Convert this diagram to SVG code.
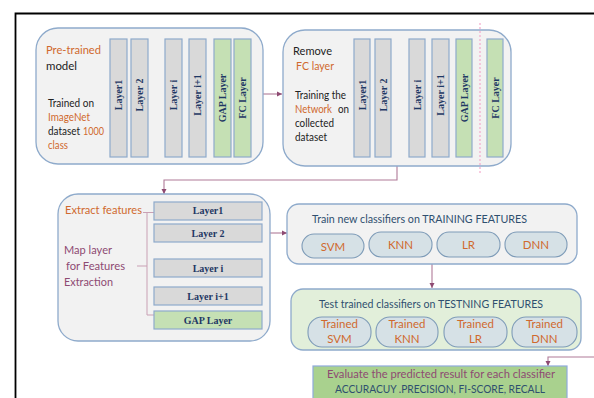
<svg xmlns="http://www.w3.org/2000/svg" width="594" height="398" viewBox="0 0 594 398">
  <defs>
    <marker id="arr" markerWidth="6" markerHeight="6" refX="5" refY="3" orient="auto" markerUnits="userSpaceOnUse">
      <path d="M0,0.5 L5,3 L0,5.5 Z" fill="#8e4a72"/>
    </marker>
    <style>
      .panel { fill: #f2f2f2; stroke: #8eaacb; stroke-width: 1.3; }
      .bar { fill: #d9d9d9; stroke: #8eaacb; stroke-width: 1.2; }
      .gbar { fill: #c5e0b4; stroke: #8eaacb; stroke-width: 1.2; }
      .pill { fill: #d6e1e6; stroke: #7f9cb8; stroke-width: 1.1; }
      .lbl { font-family: "Liberation Serif", serif; font-weight: bold; font-size: 10px; fill: #1f3864; }
      .t { font-family: Lato, "Open Sans", sans-serif; font-size: 11.5px; fill: #222; }
      .s { font-size: 10.5px; }
      .or { fill: #d0692e; }
      .mv { fill: #8e4a72; }
      .nv { fill: #2f4f6f; }
      .conn { fill: none; stroke: #b07a98; stroke-width: 1.1; }
    </style>
  </defs>

  <rect x="0" y="0" width="594" height="398" fill="#ffffff"/>

  <!-- outer frame -->
  <path d="M15.5,398 L15.5,13.5 L594,13.5" fill="none" stroke="#000" stroke-width="1.8"/>

  <!-- connectors -->
  <g id="connectors">
    <line class="conn" x1="263" y1="94" x2="282" y2="94" marker-end="url(#arr)"/>
    <path class="conn" d="M397,166 L397,180 L164,180 L164,194" marker-end="url(#arr)"/>
    <line class="conn" x1="270" y1="233" x2="287" y2="233" marker-end="url(#arr)"/>
    <line class="conn" x1="432" y1="264" x2="432" y2="288" marker-end="url(#arr)"/>
    <path class="conn" d="M594,357 L548,357 L548,366" marker-end="url(#arr)"/>
  </g>

  <!-- pre-trained model -->
  <g id="pretrained">
    <rect class="panel" x="36" y="28" width="227" height="136" rx="22"/>
    <text class="t or" x="46" y="54" textLength="55" lengthAdjust="spacingAndGlyphs">Pre-trained</text>
    <text class="t" x="46" y="70" textLength="31" lengthAdjust="spacingAndGlyphs">model</text>
    <text class="t s" x="48" y="107" textLength="46" lengthAdjust="spacingAndGlyphs">Trained on</text>
    <text class="t s or" x="48" y="121" textLength="42" lengthAdjust="spacingAndGlyphs">ImageNet</text>
    <text class="t s" x="48" y="135" textLength="32" lengthAdjust="spacingAndGlyphs">dataset</text>
    <text class="t s or" x="83" y="135" textLength="21" lengthAdjust="spacingAndGlyphs">1000</text>
    <text class="t s or" x="48" y="149" textLength="20" lengthAdjust="spacingAndGlyphs">class</text>
    <rect class="bar" x="110" y="39" width="17" height="118"/>
    <rect class="bar" x="131" y="39" width="17" height="118"/>
    <rect class="bar" x="165" y="39" width="17" height="118"/>
    <rect class="bar" x="189" y="39" width="17" height="118"/>
    <rect class="gbar" x="214" y="39" width="17" height="118"/>
    <rect class="gbar" x="234" y="39" width="17" height="118"/>
    <text class="lbl" transform="translate(122,95) rotate(-90)" text-anchor="middle">Layer1</text>
    <text class="lbl" transform="translate(143,95) rotate(-90)" text-anchor="middle">Layer 2</text>
    <text class="lbl" transform="translate(177,95) rotate(-90)" text-anchor="middle">Layer i</text>
    <text class="lbl" transform="translate(201,95) rotate(-90)" text-anchor="middle">Layer i+1</text>
    <text class="lbl" transform="translate(226,98) rotate(-90)" text-anchor="middle">GAP  Layer</text>
    <text class="lbl" transform="translate(246,98) rotate(-90)" text-anchor="middle">FC Layer</text>
  </g>

  <!-- remove FC layer -->
  <g id="remove-fc">
    <rect class="panel" x="283" y="30" width="228" height="136" rx="22"/>
    <text class="t" x="293" y="55" textLength="39" lengthAdjust="spacingAndGlyphs">Remove</text>
    <text class="t or" x="296" y="70" textLength="38" lengthAdjust="spacingAndGlyphs">FC layer</text>
    <text class="t s" x="295" y="99" textLength="51" lengthAdjust="spacingAndGlyphs">Training the</text>
    <text class="t s or" x="295" y="113" textLength="37" lengthAdjust="spacingAndGlyphs">Network</text>
    <text class="t s" x="338" y="113" textLength="11" lengthAdjust="spacingAndGlyphs">on</text>
    <text class="t s" x="295" y="127" textLength="39" lengthAdjust="spacingAndGlyphs">collected</text>
    <text class="t s" x="295" y="141" textLength="32" lengthAdjust="spacingAndGlyphs">dataset</text>
    <rect class="bar" x="354" y="39" width="16" height="118"/>
    <rect class="bar" x="375" y="39" width="16" height="118"/>
    <rect class="bar" x="409" y="39" width="16" height="118"/>
    <rect class="bar" x="432" y="39" width="17" height="118"/>
    <rect class="gbar" x="456" y="39" width="16" height="118"/>
    <rect class="gbar" x="487" y="39" width="16" height="118"/>
    <text class="lbl" transform="translate(366,95) rotate(-90)" text-anchor="middle">Layer1</text>
    <text class="lbl" transform="translate(387,95) rotate(-90)" text-anchor="middle">Layer 2</text>
    <text class="lbl" transform="translate(421,95) rotate(-90)" text-anchor="middle">Layer i</text>
    <text class="lbl" transform="translate(444,95) rotate(-90)" text-anchor="middle">Layer i+1</text>
    <text class="lbl" transform="translate(468,98) rotate(-90)" text-anchor="middle">GAP  Layer</text>
    <text class="lbl" transform="translate(499,98) rotate(-90)" text-anchor="middle">FC Layer</text>
    <!-- cut line before the FC layer -->
    <line x1="480" y1="23" x2="480" y2="174" stroke="#f3a9cb" stroke-width="1.2" stroke-dasharray="2,2"/>
  </g>

  <!-- feature extraction -->
  <g id="extract">
    <rect class="panel" x="58" y="194" width="212" height="147" rx="20"/>
    <text class="t or" x="65" y="214" textLength="77" lengthAdjust="spacingAndGlyphs">Extract features</text>
    <text class="t mv" x="64" y="254" textLength="48" lengthAdjust="spacingAndGlyphs">Map layer</text>
    <text class="t mv" x="66" y="270" textLength="59" lengthAdjust="spacingAndGlyphs">for Features</text>
    <text class="t mv" x="64" y="286" textLength="49" lengthAdjust="spacingAndGlyphs">Extraction</text>
    <!-- bracket grouping the extracted layers -->
    <path d="M143,212.5 L147,212.5 L147,315 L155,315 M147,212.5 L155,212.5 M137,266 L147,266" fill="none" stroke="#c9a0b4" stroke-width="1"/>
    <rect class="bar" x="154" y="202" width="108" height="18"/>
    <rect class="bar" x="154" y="224" width="108" height="18"/>
    <rect class="bar" x="154" y="259" width="108" height="18"/>
    <rect class="bar" x="154" y="287" width="108" height="18"/>
    <rect class="gbar" x="154" y="311" width="108" height="18"/>
    <text class="lbl" x="208" y="213.5" text-anchor="middle">Layer1</text>
    <text class="lbl" x="208" y="236.5" text-anchor="middle">Layer 2</text>
    <text class="lbl" x="208" y="271.5" text-anchor="middle">Layer i</text>
    <text class="lbl" x="208" y="299.5" text-anchor="middle">Layer i+1</text>
    <text class="lbl" x="208" y="323.5" text-anchor="middle">GAP  Layer</text>
  </g>

  <!-- training classifiers -->
  <g id="train">
    <rect class="panel" x="287" y="204" width="290" height="60" rx="12"/>
    <text class="t nv" x="312" y="223" textLength="215" lengthAdjust="spacingAndGlyphs">Train new classifiers on TRAINING FEATURES</text>
    <rect class="pill" x="302" y="234" width="62" height="24" rx="12"/>
    <rect class="pill" x="369" y="232" width="63" height="25" rx="12"/>
    <rect class="pill" x="437" y="232" width="63" height="25" rx="12"/>
    <rect class="pill" x="505" y="232" width="62" height="25" rx="12"/>
    <text class="t or" x="333" y="251" text-anchor="middle">SVM</text>
    <text class="t or" x="400.5" y="249" text-anchor="middle">KNN</text>
    <text class="t or" x="468.5" y="249" text-anchor="middle">LR</text>
    <text class="t or" x="536" y="249" text-anchor="middle">DNN</text>
  </g>

  <!-- testing classifiers -->
  <g id="test">
    <rect x="291" y="289" width="290" height="61" rx="12" fill="#e2efda" stroke="#8eaacb" stroke-width="1.3"/>
    <text class="t nv" x="319" y="308" textLength="224" lengthAdjust="spacingAndGlyphs">Test trained classifiers on TESTNING FEATURES</text>
    <rect class="pill" x="308" y="317" width="63" height="30" rx="14"/>
    <rect class="pill" x="376" y="317" width="62" height="30" rx="14"/>
    <rect class="pill" x="444" y="317" width="63" height="30" rx="14"/>
    <rect class="pill" x="512" y="317" width="65" height="30" rx="14"/>
    <text class="t or" x="339.5" y="328" text-anchor="middle">Trained</text>
    <text class="t or" x="339.5" y="343" text-anchor="middle">SVM</text>
    <text class="t or" x="407" y="328" text-anchor="middle">Trained</text>
    <text class="t or" x="407" y="343" text-anchor="middle">KNN</text>
    <text class="t or" x="475.5" y="328" text-anchor="middle">Trained</text>
    <text class="t or" x="475.5" y="343" text-anchor="middle">LR</text>
    <text class="t or" x="544.5" y="328" text-anchor="middle">Trained</text>
    <text class="t or" x="544.5" y="343" text-anchor="middle">DNN</text>
  </g>

  <!-- evaluation -->
  <g id="evaluate">
    <rect x="313" y="366" width="254" height="40" fill="#a9d18e" stroke="#8faadc" stroke-width="1.2"/>
    <text class="t mv" x="327" y="378" textLength="228" lengthAdjust="spacingAndGlyphs">Evaluate the predicted result for each classifier</text>
    <text class="t nv" x="335" y="393" textLength="210" lengthAdjust="spacingAndGlyphs">ACCURACUY .PRECISION, FI-SCORE, RECALL</text>
  </g>
</svg>
